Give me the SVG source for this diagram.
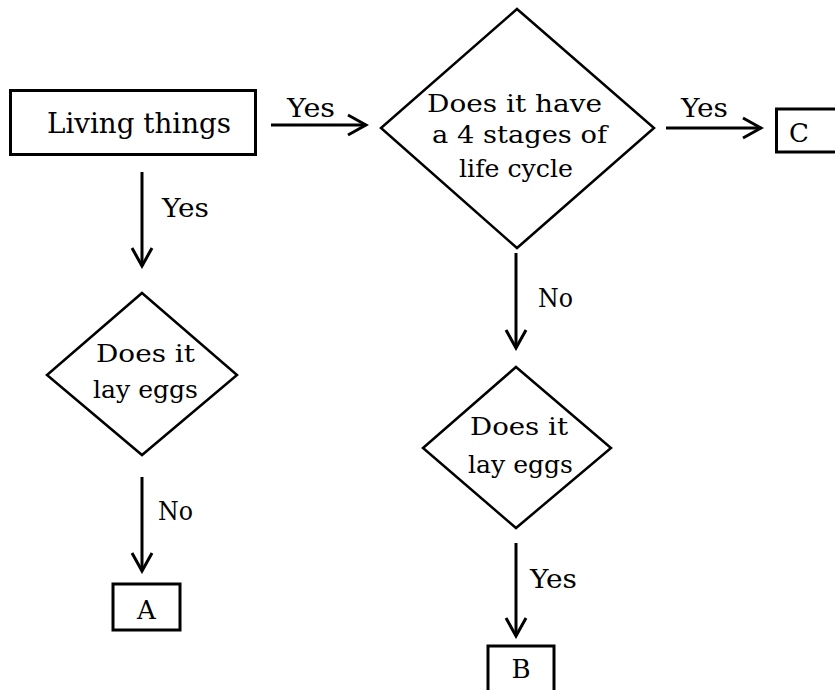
<svg xmlns="http://www.w3.org/2000/svg" width="835" height="690" viewBox="0 0 835 690">
<defs>
<style>
.box{fill:#fff;stroke:#000;stroke-width:3}
.dia{fill:#fff;stroke:#000;stroke-width:2.5;stroke-linejoin:miter}
.t{font-family:"DejaVu Serif","Liberation Serif",serif;fill:#000}
.big{font-size:27px}
.lab{font-size:26px}
.dt{font-size:24px}
.conn{stroke:#000;stroke-width:3;fill:none}
</style>
<marker id="arr" markerUnits="userSpaceOnUse" viewBox="-22 -13 25 26" refX="0" refY="0" markerWidth="25" markerHeight="26" orient="auto">
<path d="M-18,-10 L0,0 L-18,10" fill="none" stroke="#000" stroke-width="3"/>
</marker>
</defs>
<rect width="835" height="690" fill="#fff"/>
<g id="connectors">
<line class="conn" x1="271" y1="125" x2="366" y2="125" marker-end="url(#arr)"/>
<line class="conn" x1="142" y1="172" x2="142" y2="266" marker-end="url(#arr)"/>
<line class="conn" x1="666" y1="128" x2="761" y2="128" marker-end="url(#arr)"/>
<line class="conn" x1="516" y1="253" x2="516" y2="348" marker-end="url(#arr)"/>
<line class="conn" x1="142" y1="477" x2="142" y2="571" marker-end="url(#arr)"/>
<line class="conn" x1="516" y1="543" x2="516" y2="636" marker-end="url(#arr)"/>
<text class="t lab" x="287" y="117" textLength="48" lengthAdjust="spacingAndGlyphs">Yes</text>
<text class="t lab" x="162" y="217" textLength="47" lengthAdjust="spacingAndGlyphs">Yes</text>
<text class="t lab" x="681" y="117" textLength="47" lengthAdjust="spacingAndGlyphs">Yes</text>
<text class="t lab" x="538" y="307" textLength="35" lengthAdjust="spacingAndGlyphs">No</text>
<text class="t lab" x="158" y="520" textLength="35" lengthAdjust="spacingAndGlyphs">No</text>
<text class="t lab" x="530" y="588" textLength="47" lengthAdjust="spacingAndGlyphs">Yes</text>
</g>
<g id="living-things">
<rect class="box" x="10.5" y="90.5" width="245" height="64"/>
<text class="t big" x="47" y="133" textLength="184" lengthAdjust="spacingAndGlyphs">Living things</text>
</g>
<g id="four-stages">
<polygon class="dia" points="517,9 654,128 517,248 381,128"/>
<text class="t dt" x="427" y="112" textLength="175" lengthAdjust="spacingAndGlyphs">Does it have</text>
<text class="t dt" x="432" y="143" textLength="175" lengthAdjust="spacingAndGlyphs">a 4 stages of</text>
<text class="t dt" x="459" y="177" textLength="114" lengthAdjust="spacingAndGlyphs">life cycle</text>
</g>
<g id="C">
<rect class="box" x="776.5" y="109" width="70" height="43"/>
<text class="t lab" x="799" y="142" text-anchor="middle">C</text>
</g>
<g id="lay-eggs-left">
<polygon class="dia" points="142,293 237,375 142,455 47,375"/>
<text class="t dt" x="96" y="362" textLength="99" lengthAdjust="spacingAndGlyphs">Does it</text>
<text class="t dt" x="93" y="398" textLength="105" lengthAdjust="spacingAndGlyphs">lay eggs</text>
</g>
<g id="A">
<rect class="box" x="113" y="584" width="67" height="46"/>
<text class="t lab" x="146.5" y="619" text-anchor="middle">A</text>
</g>
<g id="lay-eggs-right">
<polygon class="dia" points="516,367 611,448 516,528 423,448"/>
<text class="t dt" x="470" y="435" textLength="98" lengthAdjust="spacingAndGlyphs">Does it</text>
<text class="t dt" x="468" y="473" textLength="105" lengthAdjust="spacingAndGlyphs">lay eggs</text>
</g>
<g id="B">
<rect class="box" x="488" y="646" width="66" height="60"/>
<text class="t lab" x="521" y="678" text-anchor="middle">B</text>
</g>
</svg>
